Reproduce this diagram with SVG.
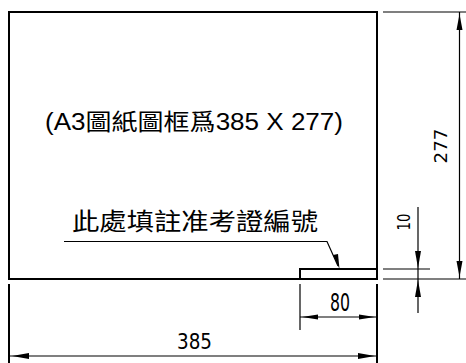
<svg xmlns="http://www.w3.org/2000/svg" width="466" height="363" viewBox="0 0 466 363">
<style>
.frame{fill:none;stroke:#000;stroke-width:2}
.thin{fill:none;stroke:#000;stroke-width:1.2}
.arr{fill:#000;stroke:none}
.cjk{font-family:"Liberation Sans","Noto Sans CJK TC",sans-serif;fill:#000}
.num{font-family:"Liberation Sans Narrow","DejaVu Sans Condensed","Liberation Sans",sans-serif;fill:#000}
</style>
<rect width="466" height="363" fill="#fff"/>
<g id="frame">
<rect class="frame" x="9" y="12" width="368" height="267"/>
<text class="cjk" x="45" y="130" font-size="23" textLength="298" lengthAdjust="spacingAndGlyphs">(A3圖紙圖框爲385 X 277)</text>
</g>
<g id="title-block">
<polyline class="frame" points="300,279 300,269 377,269"/>
</g>
<g id="note">
<text class="cjk" x="72" y="230" font-size="24" textLength="246" lengthAdjust="spacingAndGlyphs">此處填註准考證編號</text>
</g>
<g id="connectors">
<polyline class="thin" points="64,241.5 327,241.5 338,266"/>
<polygon class="arr" points="339.5,269 333,255 338,254"/>
<!-- dim 80 -->
<line class="thin" x1="300" y1="284" x2="300" y2="330"/>
<line class="frame" x1="377" y1="284" x2="377" y2="363"/>
<line class="thin" x1="300" y1="317" x2="377" y2="317"/>
<polygon class="arr" points="302,317 318,314.5 318,319.5"/>
<polygon class="arr" points="375,317 359,314.5 359,319.5"/>
<!-- dim 385 -->
<line class="frame" x1="9" y1="284" x2="9" y2="363"/>
<line class="thin" x1="9" y1="356" x2="377" y2="356"/>
<polygon class="arr" points="12,356 29,353 29,359"/>
<polygon class="arr" points="375,356 358,353 358,359"/>
<!-- dim 277 -->
<line class="thin" x1="383" y1="12" x2="466" y2="12"/>
<line class="thin" x1="383" y1="279" x2="466" y2="279"/>
<line class="thin" x1="459.5" y1="12" x2="459.5" y2="279"/>
<polygon class="arr" points="459.5,14 456.5,30 462.5,30"/>
<polygon class="arr" points="459.5,277 456.5,261 462.5,261"/>
<!-- dim 10 -->
<line class="thin" x1="383" y1="269" x2="430" y2="269"/>
<line class="thin" x1="418" y1="207" x2="418" y2="313"/>
<polygon class="arr" points="418,268 415,251 421,251"/>
<polygon class="arr" points="418,280 415,297 421,297"/>
</g>
<g id="dim-labels">
<text class="num" x="194.5" y="349" font-size="22" text-anchor="middle" textLength="35" lengthAdjust="spacingAndGlyphs">385</text>
<text class="num" x="340" y="311" font-size="24" text-anchor="middle" textLength="20" lengthAdjust="spacingAndGlyphs">80</text>
<text class="num" transform="translate(447,146) rotate(-90)" font-size="17" text-anchor="middle" textLength="35" lengthAdjust="spacingAndGlyphs">277</text>
<text class="num" transform="translate(410,222) rotate(-90)" font-size="17" text-anchor="middle" textLength="17" lengthAdjust="spacingAndGlyphs">10</text>
</g>
</svg>
